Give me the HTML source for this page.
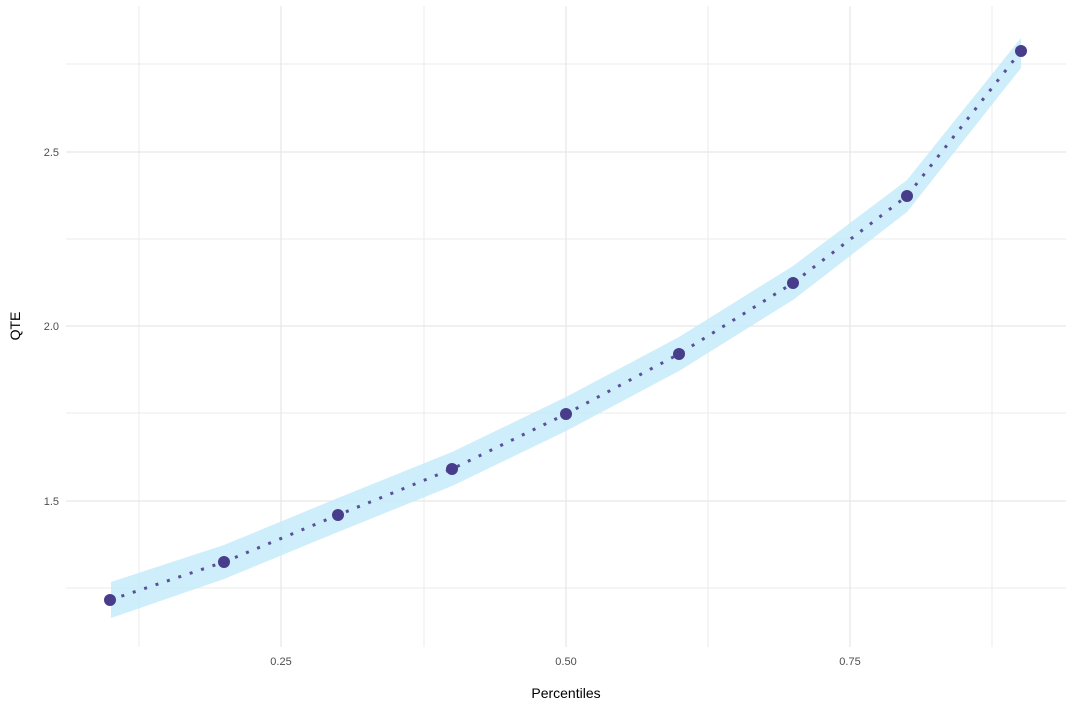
<!DOCTYPE html>
<html><head><style>body{margin:0;background:#fff}svg{display:block}text{font-family:"Liberation Sans",sans-serif}</style></head><body>
<svg width="1074" height="709" xmlns="http://www.w3.org/2000/svg">
<g stroke="#ebebeb" stroke-width="1">
<line x1="66" x2="1066" y1="64" y2="64"/><line x1="66" x2="1066" y1="239" y2="239"/><line x1="66" x2="1066" y1="413" y2="413"/><line x1="66" x2="1066" y1="588" y2="588"/>
<line x1="139" x2="139" y1="6" y2="647"/><line x1="424" x2="424" y1="6" y2="647"/><line x1="708" x2="708" y1="6" y2="647"/><line x1="992" x2="992" y1="6" y2="647"/>
</g>
<g stroke="#e6e6e6" stroke-width="1.2">
<line x1="66" x2="1066" y1="152" y2="152"/><line x1="66" x2="1066" y1="326" y2="326"/><line x1="66" x2="1066" y1="501" y2="501"/>
<line x1="281" x2="281" y1="6" y2="647"/><line x1="566" x2="566" y1="6" y2="647"/><line x1="850" x2="850" y1="6" y2="647"/>
</g>
<polygon fill="#c4ebf9" fill-opacity="0.85" points="111,582 224,545 338,498 452,452 566,397 679,337 793,266 907,180 1021,38 1021,68 907,212 793,300 679,371 566,431 452,486 338,532 224,579 111,618"/>
<polyline fill="none" stroke="#5b4f98" stroke-width="3" stroke-dasharray="3,9" points="110,600 224,562 338,515 452,469 566,414 679,354 793,283 907,196 1021,51"/>
<g fill="#483d8b">
<circle cx="110" cy="600" r="6"/><circle cx="224" cy="562" r="6"/><circle cx="338" cy="515" r="6"/><circle cx="452" cy="469" r="6"/><circle cx="566" cy="414" r="6"/><circle cx="679" cy="354" r="6"/><circle cx="793" cy="283" r="6"/><circle cx="907" cy="196" r="6"/><circle cx="1021" cy="51" r="6"/>
</g>
<g font-size="11" fill="#4d4d4d" text-anchor="end">
<text x="59" y="156">2.5</text><text x="59" y="330">2.0</text><text x="59" y="505">1.5</text>
</g>
<g font-size="11" fill="#4d4d4d" text-anchor="middle">
<text x="281" y="665">0.25</text><text x="566" y="665">0.50</text><text x="850" y="665">0.75</text>
</g>
<text x="566" y="698" font-size="14" text-anchor="middle" fill="#000">Percentiles</text>
<text transform="translate(20,326) rotate(-90)" font-size="14" text-anchor="middle" fill="#000">QTE</text>
</svg>
</body></html>
